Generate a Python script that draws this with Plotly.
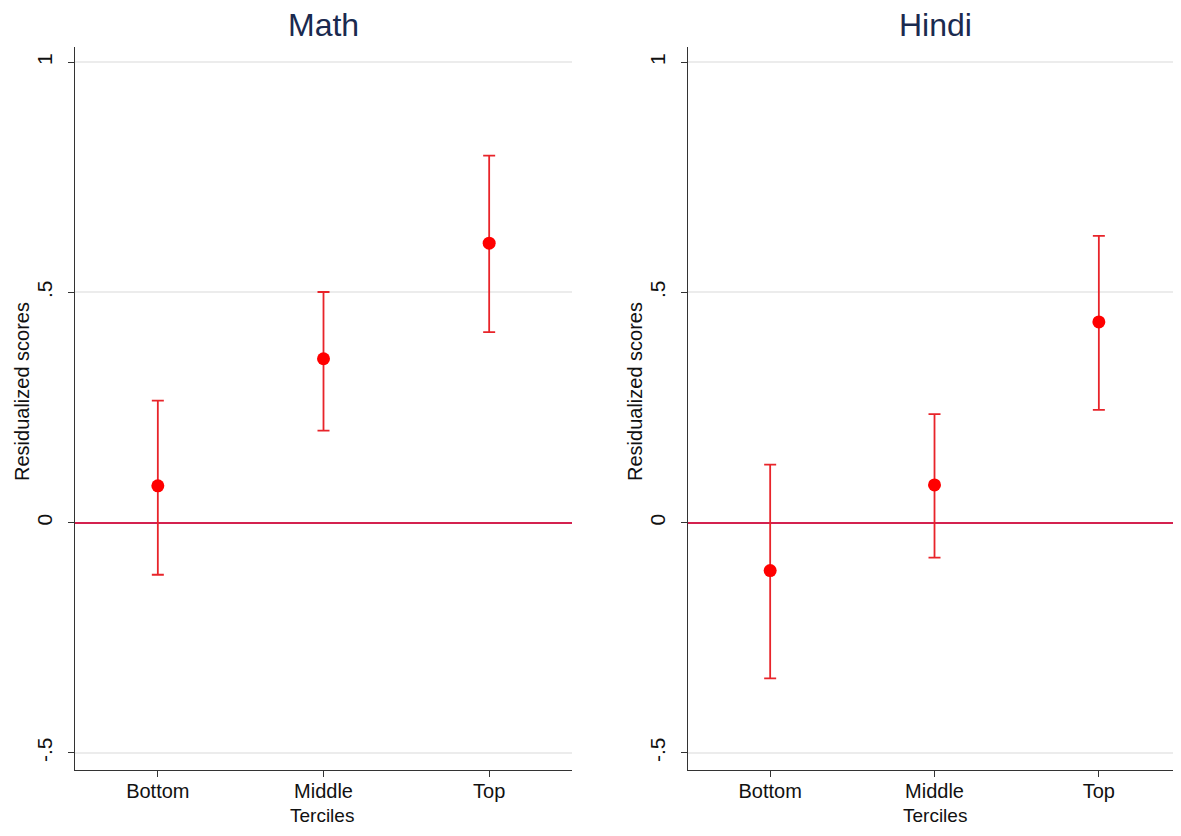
import plotly.graph_objects as go

# page is drawn with an 8px body margin; keep the figure inside the window
OFF = 8
W, H = 1181 - 2 * OFF, 836 - 2 * OFF

categories = ["Bottom", "Middle", "Top"]
cat_pos = [1, 2, 3]

math_est = [0.080, 0.356, 0.607]
math_lo = [-0.113, 0.200, 0.414]
math_hi = [0.265, 0.501, 0.797]

hindi_est = [-0.104, 0.082, 0.436]
hindi_lo = [-0.338, -0.076, 0.245]
hindi_hi = [0.126, 0.236, 0.623]

panel_titles = ["Math", "Hindi"]
x_title = "Terciles"
y_title = "Residualized scores"
y_tickvals = [-0.5, 0, 0.5, 1]
y_ticktext = ["-.5", "0", ".5", "1"]

FONT = "Liberation Sans, Arial, Helvetica, sans-serif"
RED = "#ff0000"
BAR = "#e8242a"
ZERO = "#d4214f"


def px(x):
    return (x - OFF) / W


def py(y):
    return 1 - (y - OFF) / H


fig = go.Figure()

panels = [(math_est, math_lo, math_hi, "x", "y"), (hindi_est, hindi_lo, hindi_hi, "x2", "y2")]
for est, lo, hi, xa, ya in panels:
    fig.add_trace(go.Scatter(
        x=cat_pos, y=est, mode="markers", xaxis=xa, yaxis=ya,
        marker=dict(color=RED, size=13),
        error_y=dict(type="data", symmetric=False,
                     array=[h - e for h, e in zip(hi, est)],
                     arrayminus=[e - l for e, l in zip(est, lo)],
                     color=BAR, thickness=1.8, width=6),
        showlegend=False,
    ))

xdom1 = [px(75), px(572)]
xdom2 = [px(688), 1.0]
ydom = [py(770), py(47)]
# right panel is clipped by the window edge
x2_end = 3 + ((W + OFF) - 1099) / 164.0


def xaxis(dom, anchor, rng):
    return dict(domain=dom, anchor=anchor, range=rng, tickvals=cat_pos,
                ticktext=categories, showgrid=False, zeroline=False,
                showline=True, linecolor="#333333", linewidth=1.3,
                ticks="outside", ticklen=6, tickcolor="#333333", tickwidth=1.3,
                ticklabelstandoff=-3, automargin=False,
                tickfont=dict(family=FONT, size=20, color="#111111"))


def yaxis(anchor):
    return dict(domain=ydom, anchor=anchor, range=[-0.537, 1.033], tickvals=y_tickvals,
                ticktext=y_ticktext, tickangle=-90, showgrid=True, gridcolor="#ececec",
                gridwidth=1.5, zeroline=True, zerolinecolor=ZERO, zerolinewidth=1.6,
                showline=True, linecolor="#333333", linewidth=1.3,
                ticks="outside", ticklen=6, tickcolor="#333333", tickwidth=1.3,
                ticklabelstandoff=7, automargin=False,
                tickfont=dict(family=FONT, size=21, color="#111111"))


fig.update_layout(
    width=W, height=H,
    margin=dict(l=0, r=0, t=0, b=0, autoexpand=False),
    paper_bgcolor="white", plot_bgcolor="white",
    xaxis=xaxis(xdom1, "y", [0.5, 3.5]), yaxis=yaxis("x"),
    xaxis2=xaxis(xdom2, "y2", [0.5, x2_end]), yaxis2=yaxis("x2"),
)

annotations = []
for title, xc in zip(panel_titles, [323, 935]):
    annotations.append(dict(text=title, x=px(xc), y=py(25), xref="paper", yref="paper",
                            showarrow=False, xanchor="center", yanchor="middle",
                            font=dict(family=FONT, size=32, color="#1a2a4f")))
for xc in [322, 935]:
    annotations.append(dict(text=x_title, x=px(xc), y=py(828), xref="paper", yref="paper",
                            showarrow=False, xanchor="center", yanchor="bottom",
                            font=dict(family=FONT, size=19, color="#111111")))
for xc in [22, 635]:
    annotations.append(dict(text=y_title, x=px(xc), y=py(392),
                            xref="paper", yref="paper", showarrow=False, textangle=-90,
                            xanchor="center", yanchor="middle",
                            font=dict(family=FONT, size=20, color="#111111")))
fig.update_layout(annotations=annotations)

fig.write_html("out.html")
